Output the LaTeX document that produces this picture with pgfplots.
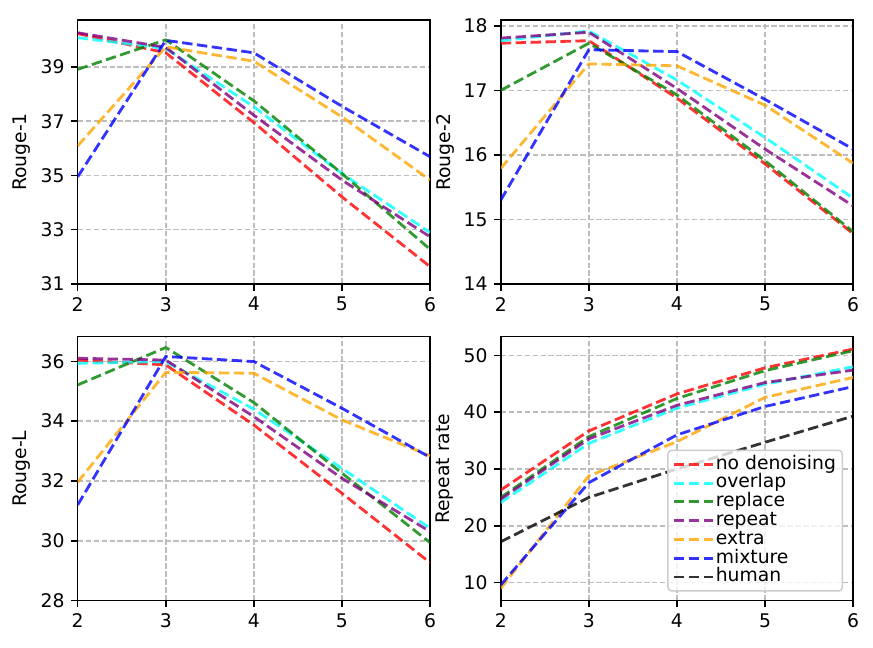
\documentclass[border=0pt]{standalone}
\usepackage{fontspec}
\setmainfont{DejaVu Sans}
\usepackage{pgfplots}
\pgfplotsset{compat=1.18}
\definecolor{cRed}{rgb}{1,0,0}
\definecolor{cCyan}{rgb}{0,1,1}
\definecolor{cGreen}{rgb}{0,0.5,0}
\definecolor{cPurple}{rgb}{0.5,0,0.5}
\definecolor{cOrange}{rgb}{1,0.647,0}
\definecolor{cBlue}{rgb}{0,0,1}
\definecolor{cBlack}{rgb}{0,0,0}
\pgfplotsset{
  panel/.style={
    scale only axis, width=187.8pt, height=140.7pt,
    xmin=2, xmax=6, xtick={2,3,4,5,6},
    tick align=outside, tick pos=left, major tick length=3.5pt,
    every tick/.style={black, line width=0.8pt},
    axis line style={line width=0.8pt},
    grid=major,
    grid style={color=gray!52, dash pattern=on 2.96pt off 1.28pt, line width=0.8pt},
    /pgf/number format/assume math mode=true,
    ticklabel style={font=\fontsize{10}{12}\selectfont},
    label style={font=\fontsize{10}{12}\selectfont},
    ylabel style={at={(axis description cs:-0.158,0.5)}, anchor=center},
    every axis plot/.append style={line width=1.5pt, opacity=0.8, dash pattern=on 5.55pt off 2.4pt, mark=none,
      legend image code/.code={\draw[##1] (0pt,0pt) -- (20.6pt,0pt);}},
  },
}
\begin{document}
\begin{tikzpicture}
\useasboundingbox (0,0) rectangle (465.3pt,344.85pt);
% Rouge-1
\begin{axis}[panel, at={(41.41pt,193.48pt)}, anchor=south west,
  ymin=31, ymax=40.73, ytick={31,33,35,37,39}, ylabel={Rouge-1}]
\addplot[cRed] coordinates {(2,40.23) (3,39.52) (4,36.95) (5,34.21) (6,31.64)};
\addplot[cCyan] coordinates {(2,40.08) (3,39.68) (4,37.53) (5,35.07) (6,32.90)};
\addplot[cGreen] coordinates {(2,38.91) (3,40.00) (4,37.75) (5,35.07) (6,32.28)};
\addplot[cPurple] coordinates {(2,40.26) (3,39.72) (4,37.22) (5,34.83) (6,32.74)};
\addplot[cOrange] coordinates {(2,36.09) (3,39.74) (4,39.21) (5,37.16) (6,34.83)};
\addplot[cBlue] coordinates {(2,34.95) (3,39.98) (4,39.52) (5,37.55) (6,35.69)};
\end{axis}
% Rouge-2
\begin{axis}[panel, at={(266.9pt,193.48pt)}, anchor=south west,
  ymin=14, ymax=18.09, ytick={14,15,16,17,18}, ylabel={Rouge-2}]
\addplot[cRed] coordinates {(2,17.73) (3,17.77) (4,16.88) (5,15.86) (6,14.78)};
\addplot[cCyan] coordinates {(2,17.77) (3,17.92) (4,17.16) (5,16.27) (6,15.33)};
\addplot[cGreen] coordinates {(2,17.00) (3,17.73) (4,16.93) (5,15.91) (6,14.81)};
\addplot[cPurple] coordinates {(2,17.81) (3,17.90) (4,17.03) (5,16.09) (6,15.21)};
\addplot[cOrange] coordinates {(2,15.79) (3,17.41) (4,17.38) (5,16.77) (6,15.87)};
\addplot[cBlue] coordinates {(2,15.30) (3,17.63) (4,17.60) (5,16.86) (6,16.09)};
\end{axis}
% Rouge-L
\begin{axis}[panel, at={(41.41pt,24.68pt)}, anchor=south west,
  ymin=28, ymax=36.82, ytick={28,30,32,34,36}, ylabel={Rouge-L}]
\addplot[cRed] coordinates {(2,36.04) (3,35.88) (4,33.87) (5,31.59) (6,29.27)};
\addplot[cCyan] coordinates {(2,35.93) (3,35.99) (4,34.40) (5,32.42) (6,30.42)};
\addplot[cGreen] coordinates {(2,35.21) (3,36.46) (4,34.62) (5,32.26) (6,29.94)};
\addplot[cPurple] coordinates {(2,36.10) (3,36.04) (4,34.15) (5,32.09) (6,30.31)};
\addplot[cOrange] coordinates {(2,31.96) (3,35.63) (4,35.60) (5,34.04) (6,32.84)};
\addplot[cBlue] coordinates {(2,31.20) (3,36.16) (4,35.99) (5,34.43) (6,32.79)};
\end{axis}
% Repeat rate
\begin{axis}[panel, at={(266.9pt,24.68pt)}, anchor=south west,
  ymin=6.83, ymax=53.27, ytick={10,20,30,40,50}, ylabel={Repeat rate},
  legend cell align=left,
  legend style={at={(axis description cs:0.9716,0.034)}, anchor=south east,
    draw=black!20, line width=0.8pt, rounded corners=2pt, fill=white, fill opacity=0.8, text opacity=1,
    font=\fontsize{10}{12}\selectfont, inner xsep=2.5pt, inner ysep=2.5pt,
    nodes={inner xsep=0.9pt, inner ysep=0pt, text height=7.6pt, text depth=2.4pt},
    row sep=0pt}]
\addplot[cRed] coordinates {(2,26.3) (3,36.7) (4,43.2) (5,47.8) (6,51.1)};
\addlegendentry{no denoising}
\addplot[cCyan] coordinates {(2,24.1) (3,34.5) (4,40.7) (5,44.9) (6,48.0)};
\addlegendentry{overlap}
\addplot[cGreen] coordinates {(2,25.0) (3,35.7) (4,42.4) (5,47.3) (6,50.8)};
\addlegendentry{replace}
\addplot[cPurple] coordinates {(2,24.7) (3,35.3) (4,41.2) (5,45.2) (6,47.4)};
\addlegendentry{repeat}
\addplot[cOrange] coordinates {(2,9.0) (3,28.8) (4,34.8) (5,42.6) (6,46.1)};
\addlegendentry{extra}
\addplot[cBlue] coordinates {(2,9.6) (3,27.6) (4,36.0) (5,41.0) (6,44.5)};
\addlegendentry{mixture}
\addplot[cBlack] coordinates {(2,17.2) (3,25.0) (4,30.0) (5,34.7) (6,39.3)};
\addlegendentry{human}
\end{axis}
\end{tikzpicture}
\end{document}
